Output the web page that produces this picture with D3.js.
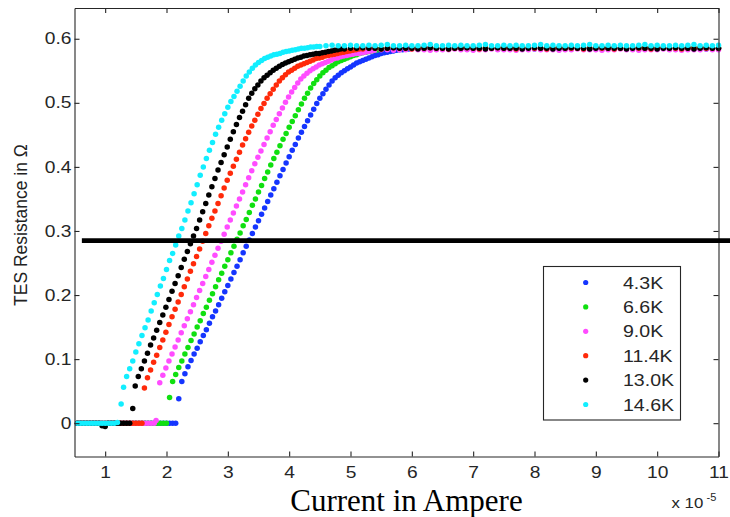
<!DOCTYPE html>
<html>
<head>
<meta charset="utf-8">
<script src="https://cdn.jsdelivr.net/npm/d3@7"></script>
<style>
  body { margin: 0; background: #fff; }
  svg { display: block; }
</style>
</head>
<body>
<svg id="chart" width="730" height="517"></svg>
<script>
// Bath temperatures shown in the legend, with their marker colours
const seriesLabels = ["4.3K", "6.6K", "9.0K", "11.4K", "13.0K", "14.6K"];
const seriesColors = ["#1535ff", "#10e010", "#ff4cff", "#ff2a0a", "#000000", "#12eeff"];

// Axis ticks (current in units of 1e-5 A, resistance in ohm)
const xTicks = [1, 2, 3, 4, 5, 6, 7, 8, 9, 10, 11];
const yTicks = [0, 0.1, 0.2, 0.3, 0.4, 0.5, 0.6];

// Reference resistance level drawn as a heavy horizontal rule
const referenceResistance = 0.285;

// Measured R(I) sweeps: [current (1e-5 A), resistance (ohm)]
const temp43K = [
  [0.55,0],[0.60,0],[0.65,0],[0.70,0],[0.75,0],[0.80,0],[0.85,0],[0.90,0],[0.95,0],[1.00,0],
  [1.05,0],[1.10,0],[1.15,0],[1.20,0],[1.25,0],[1.30,0],[1.35,0],[1.40,0],[1.45,0],[1.50,0],
  [1.55,0],[1.60,0],[1.65,0],[1.70,0],[1.75,0],[1.80,0],[1.85,0],[1.90,0],[1.95,0],[2.00,0],
  [2.05,0],[2.10,0],[2.15,0],
  [2.20,0.038],[2.25,0.065],[2.30,0.077],[2.35,0.088],[2.40,0.098],[2.45,0.108],[2.50,0.117],
  [2.55,0.127],[2.60,0.137],[2.65,0.146],[2.70,0.156],[2.75,0.166],[2.80,0.175],[2.85,0.185],
  [2.90,0.195],[2.95,0.205],[3.00,0.215],[3.05,0.225],[3.10,0.235],[3.15,0.245],[3.20,0.255],
  [3.25,0.266],[3.30,0.276],[3.35,0.286],[3.40,0.296],[3.45,0.306],[3.50,0.316],[3.55,0.326],
  [3.60,0.336],[3.65,0.346],[3.70,0.356],[3.75,0.366],[3.80,0.376],[3.85,0.386],[3.90,0.396],
  [3.95,0.406],[4.00,0.416],[4.05,0.426],[4.10,0.435],[4.15,0.445],[4.20,0.454],[4.25,0.463],
  [4.30,0.472],[4.35,0.481],[4.40,0.490],[4.45,0.499],[4.50,0.507],[4.55,0.514],[4.60,0.521],
  [4.65,0.528],[4.70,0.534],[4.75,0.539],[4.80,0.543],[4.85,0.547],[4.90,0.550],[4.95,0.553],
  [5.00,0.556],[5.05,0.559],[5.10,0.562],[5.15,0.564],[5.20,0.566],[5.25,0.568],[5.30,0.570],
  [5.35,0.572],[5.40,0.574],[5.45,0.575],[5.50,0.577],[5.55,0.578],[5.60,0.579],[5.65,0.580],
  [5.70,0.581],[5.75,0.582],[5.80,0.583],[5.85,0.583],[5.90,0.584],[5.95,0.584],
  [6.0,0.585],[6.1,0.585],[6.2,0.586],[6.3,0.585],[6.4,0.584],[6.5,0.585],[6.6,0.586],[6.7,0.585],
  [6.8,0.585],[6.9,0.584],[7.0,0.585],[7.1,0.586],[7.2,0.585],[7.3,0.585],[7.4,0.584],[7.5,0.585],
  [7.6,0.586],[7.7,0.585],[7.8,0.585],[7.9,0.585],[8.0,0.584],[8.1,0.585],[8.2,0.586],[8.3,0.585],
  [8.4,0.585],[8.5,0.584],[8.6,0.585],[8.7,0.585],[8.8,0.586],[8.9,0.585],[9.0,0.585],[9.1,0.584],
  [9.2,0.585],[9.3,0.586],[9.4,0.585],[9.5,0.585],[9.6,0.585],[9.7,0.584],[9.8,0.585],[9.9,0.586],
  [10.0,0.585],[10.1,0.585],[10.2,0.584],[10.3,0.585],[10.4,0.585],[10.5,0.586],[10.6,0.585],
  [10.7,0.585],[10.8,0.584],[10.9,0.585],[11.0,0.585]
];

const temp66K = [
  [0.55,0],[0.60,0],[0.65,0],[0.70,0],[0.75,0],[0.80,0],[0.85,0],[0.90,0],[0.95,0],[1.00,0],
  [1.05,0],[1.10,0],[1.15,0],[1.20,0],[1.25,0],[1.30,0],[1.35,0],[1.40,0],[1.45,0],[1.50,0],
  [1.55,0],[1.60,0],[1.65,0],[1.70,0],[1.75,0],[1.80,0],[1.85,0],[1.90,0],[1.95,0],[2.00,0],
  [2.05,0.040],[2.10,0.065],[2.15,0.076],[2.20,0.087],[2.25,0.097],[2.30,0.108],[2.35,0.118],
  [2.40,0.129],[2.45,0.139],[2.50,0.150],[2.55,0.160],[2.60,0.171],[2.65,0.181],[2.70,0.192],
  [2.75,0.202],[2.80,0.213],[2.85,0.224],[2.90,0.234],[2.95,0.245],[3.00,0.255],[3.05,0.266],
  [3.10,0.276],[3.15,0.287],[3.20,0.297],[3.25,0.308],[3.30,0.318],[3.35,0.329],[3.40,0.340],
  [3.45,0.350],[3.50,0.361],[3.55,0.371],[3.60,0.382],[3.65,0.392],[3.70,0.403],[3.75,0.413],
  [3.80,0.423],[3.85,0.433],[3.90,0.443],[3.95,0.452],[4.00,0.462],[4.05,0.471],[4.10,0.480],
  [4.15,0.489],[4.20,0.498],[4.25,0.507],[4.30,0.515],[4.35,0.523],[4.40,0.530],[4.45,0.536],
  [4.50,0.542],[4.55,0.547],[4.60,0.551],[4.65,0.555],[4.70,0.558],[4.75,0.561],[4.80,0.564],
  [4.85,0.566],[4.90,0.568],[4.95,0.570],[5.00,0.572],[5.05,0.574],[5.10,0.575],[5.15,0.577],
  [5.20,0.578],[5.25,0.579],[5.30,0.580],[5.35,0.581],[5.40,0.582],[5.45,0.583],[5.50,0.584],
  [5.6,0.584],[5.7,0.585],[5.8,0.585],[5.9,0.584],[6.0,0.585],[6.1,0.586],[6.2,0.585],[6.3,0.584],
  [6.4,0.585],[6.5,0.586],[6.6,0.585],[6.7,0.585],[6.8,0.586],[6.9,0.585],[7.0,0.585],[7.1,0.585],
  [7.2,0.586],[7.3,0.585],[7.4,0.585],[7.5,0.586],[7.6,0.585],[7.7,0.585],[7.8,0.586],[7.9,0.586],
  [8.0,0.585],[8.1,0.585],[8.2,0.586],[8.3,0.585],[8.4,0.586],[8.5,0.585],[8.6,0.585],[8.7,0.586],
  [8.8,0.585],[8.9,0.585],[9.0,0.586],[9.1,0.585],[9.2,0.585],[9.3,0.586],[9.4,0.585],[9.5,0.586],
  [9.6,0.585],[9.7,0.585],[9.8,0.586],[9.9,0.585],[10.0,0.585],[10.1,0.586],[10.2,0.585],
  [10.3,0.586],[10.4,0.585],[10.5,0.585],[10.6,0.586],[10.7,0.585],[10.8,0.586],[10.9,0.585],
  [11.0,0.586]
];

const temp90K = [
  [0.55,0],[0.60,0],[0.65,0],[0.70,0],[0.75,0],[0.80,0],[0.85,0],[0.90,0],[0.95,0],[1.00,0],
  [1.05,0],[1.10,0],[1.15,0],[1.20,0],[1.25,0],[1.30,0],[1.35,0],[1.40,0],[1.45,0],[1.50,0],
  [1.55,0],[1.60,0],[1.65,0],[1.70,0],[1.75,0],[1.80,0],[1.83,0.004],
  [1.89,0.063],[1.94,0.075],[1.99,0.086],[2.04,0.097],[2.09,0.108],[2.14,0.119],[2.19,0.130],
  [2.24,0.141],[2.29,0.152],[2.34,0.163],[2.39,0.174],[2.44,0.185],[2.49,0.196],[2.54,0.207],
  [2.59,0.218],[2.64,0.229],[2.69,0.240],[2.74,0.251],[2.79,0.262],[2.84,0.273],[2.89,0.284],
  [2.94,0.295],[2.99,0.306],[3.04,0.317],[3.09,0.328],[3.14,0.339],[3.19,0.350],[3.24,0.361],
  [3.29,0.372],[3.34,0.383],[3.39,0.394],[3.44,0.405],[3.49,0.415],[3.54,0.425],[3.59,0.435],
  [3.64,0.445],[3.69,0.455],[3.74,0.465],[3.79,0.474],[3.84,0.483],[3.89,0.492],[3.94,0.501],
  [3.99,0.509],[4.04,0.517],[4.09,0.524],[4.14,0.531],[4.19,0.537],[4.24,0.542],[4.29,0.546],
  [4.34,0.550],[4.39,0.553],[4.44,0.556],[4.49,0.559],[4.54,0.561],[4.59,0.563],[4.64,0.565],
  [4.69,0.567],[4.74,0.569],[4.79,0.570],[4.84,0.572],[4.89,0.573],[4.94,0.574],[4.99,0.575],
  [5.04,0.576],[5.09,0.577],[5.14,0.577],[5.19,0.578],[5.24,0.579],[5.29,0.580],[5.34,0.581],
  [5.39,0.582],
  [5.5,0.583],[5.6,0.583],[5.7,0.582],[5.8,0.583],[5.9,0.583],[6.0,0.584],[6.1,0.583],[6.2,0.583],
  [6.3,0.582],[6.4,0.583],[6.5,0.583],[6.6,0.583],[6.7,0.584],[6.8,0.583],[6.9,0.583],[7.0,0.582],
  [7.1,0.583],[7.2,0.583],[7.3,0.584],[7.4,0.583],[7.5,0.583],[7.6,0.583],[7.7,0.582],[7.8,0.583],
  [7.9,0.583],[8.0,0.584],[8.1,0.583],[8.2,0.583],[8.3,0.583],[8.4,0.582],[8.5,0.583],[8.6,0.583],
  [8.7,0.584],[8.8,0.583],[8.9,0.583],[9.0,0.583],[9.1,0.582],[9.2,0.583],[9.3,0.583],[9.4,0.584],
  [9.5,0.583],[9.6,0.583],[9.7,0.582],[9.8,0.583],[9.9,0.583],[10.0,0.583],[10.1,0.584],
  [10.2,0.583],[10.3,0.583],[10.4,0.582],[10.5,0.583],[10.6,0.583],[10.7,0.583],[10.8,0.584],
  [10.9,0.583],[11.0,0.583]
];

const temp114K = [
  [0.55,0],[0.60,0],[0.65,0],[0.70,0],[0.75,0],[0.80,0],[0.85,0],[0.90,0],[0.95,0],[1.00,0],
  [1.05,0],[1.10,0],[1.15,0],[1.20,0],[1.25,0],[1.30,0],[1.35,0],[1.40,0],[1.45,0],[1.50,0],
  [1.55,0],[1.60,0],
  [1.64,0.055],[1.69,0.071],[1.74,0.083],[1.79,0.095],[1.84,0.106],[1.89,0.118],[1.94,0.130],
  [1.99,0.142],[2.04,0.154],[2.09,0.166],[2.14,0.178],[2.19,0.189],[2.24,0.201],[2.29,0.213],
  [2.34,0.225],[2.39,0.237],[2.44,0.249],[2.49,0.260],[2.54,0.272],[2.59,0.284],[2.64,0.296],
  [2.69,0.308],[2.74,0.320],[2.79,0.331],[2.84,0.343],[2.89,0.355],[2.94,0.367],[2.99,0.379],
  [3.04,0.390],[3.09,0.401],[3.14,0.412],[3.19,0.423],[3.24,0.434],[3.29,0.444],[3.34,0.454],
  [3.39,0.464],[3.44,0.473],[3.49,0.482],[3.54,0.491],[3.59,0.499],[3.64,0.507],[3.69,0.514],
  [3.74,0.521],[3.79,0.528],[3.84,0.534],[3.89,0.539],[3.94,0.544],[3.99,0.548],[4.04,0.551],
  [4.09,0.554],[4.14,0.557],[4.19,0.559],[4.24,0.561],[4.29,0.563],[4.34,0.565],[4.39,0.567],
  [4.44,0.569],[4.49,0.570],[4.54,0.571],[4.59,0.573],[4.64,0.574],[4.69,0.575],[4.74,0.576],
  [4.79,0.577],[4.84,0.578],[4.89,0.579],[4.94,0.580],[4.99,0.581],[5.04,0.582],[5.09,0.583],
  [5.14,0.584],
  [5.2,0.584],[5.3,0.585],[5.4,0.585],[5.5,0.584],[5.6,0.585],[5.7,0.586],[5.8,0.585],[5.9,0.585],
  [6.0,0.584],[6.1,0.585],[6.2,0.585],[6.3,0.586],[6.4,0.585],[6.5,0.585],[6.6,0.584],[6.7,0.585],
  [6.8,0.585],[6.9,0.586],[7.0,0.585],[7.1,0.584],[7.2,0.585],[7.3,0.585],[7.4,0.586],[7.5,0.585],
  [7.6,0.585],[7.7,0.584],[7.8,0.585],[7.9,0.586],[8.0,0.585],[8.1,0.585],[8.2,0.584],[8.3,0.585],
  [8.4,0.586],[8.5,0.585],[8.6,0.585],[8.7,0.585],[8.8,0.584],[8.9,0.585],[9.0,0.586],[9.1,0.585],
  [9.2,0.585],[9.3,0.584],[9.4,0.585],[9.5,0.585],[9.6,0.586],[9.7,0.585],[9.8,0.585],[9.9,0.584],
  [10.0,0.585],[10.1,0.586],[10.2,0.585],[10.3,0.585],[10.4,0.584],[10.5,0.585],[10.6,0.585],
  [10.7,0.586],[10.8,0.585],[10.9,0.585],[11.0,0.585]
];

const temp130K = [
  [0.55,0],[0.60,0],[0.65,0],[0.70,0],[0.75,0],[0.80,0],[0.85,0],[0.90,0],[0.95,-0.004],[1.00,-0.005],
  [1.05,0],[1.10,0],[1.15,0],[1.20,0],[1.25,0],[1.30,0],[1.35,0],[1.40,0],
  [1.45,0.023],[1.49,0.058],[1.54,0.073],[1.59,0.085],[1.64,0.097],[1.69,0.109],[1.74,0.122],
  [1.79,0.133],[1.84,0.145],[1.89,0.157],[1.94,0.169],[1.99,0.181],[2.04,0.193],[2.09,0.206],
  [2.14,0.218],[2.19,0.230],[2.24,0.243],[2.29,0.256],[2.34,0.268],[2.39,0.280],[2.44,0.292],
  [2.49,0.304],[2.54,0.317],[2.59,0.330],[2.64,0.343],[2.69,0.356],[2.74,0.369],[2.79,0.382],
  [2.84,0.395],[2.89,0.407],[2.94,0.419],[2.99,0.431],[3.04,0.443],[3.09,0.455],[3.14,0.466],
  [3.19,0.477],[3.24,0.487],[3.29,0.497],[3.34,0.507],[3.39,0.515],[3.44,0.522],[3.49,0.528],
  [3.54,0.534],[3.59,0.539],[3.64,0.543],[3.69,0.547],[3.74,0.551],[3.79,0.554],[3.84,0.557],
  [3.89,0.560],[3.94,0.562],[3.99,0.564],[4.04,0.566],[4.09,0.568],[4.14,0.570],[4.19,0.571],
  [4.24,0.573],[4.29,0.574],[4.34,0.575],[4.39,0.576],[4.44,0.577],[4.49,0.577],[4.54,0.578],
  [4.59,0.579],[4.64,0.580],[4.69,0.581],[4.74,0.582],[4.79,0.583],[4.84,0.584],
  [4.9,0.584],[5.0,0.585],[5.1,0.585],[5.2,0.586],[5.3,0.585],[5.4,0.585],[5.5,0.584],[5.6,0.585],
  [5.7,0.586],[5.8,0.585],[5.9,0.585],[6.0,0.585],[6.1,0.584],[6.2,0.585],[6.3,0.586],[6.4,0.585],
  [6.5,0.585],[6.6,0.584],[6.7,0.585],[6.8,0.585],[6.9,0.586],[7.0,0.585],[7.1,0.585],[7.2,0.584],
  [7.3,0.585],[7.4,0.586],[7.5,0.585],[7.6,0.585],[7.7,0.585],[7.8,0.584],[7.9,0.585],[8.0,0.586],
  [8.1,0.585],[8.2,0.585],[8.3,0.584],[8.4,0.585],[8.5,0.585],[8.6,0.586],[8.7,0.585],[8.8,0.585],
  [8.9,0.584],[9.0,0.585],[9.1,0.586],[9.2,0.585],[9.3,0.585],[9.4,0.585],[9.5,0.584],[9.6,0.585],
  [9.7,0.586],[9.8,0.585],[9.9,0.585],[10.0,0.584],[10.1,0.585],[10.2,0.585],[10.3,0.586],
  [10.4,0.585],[10.5,0.585],[10.6,0.584],[10.7,0.585],[10.8,0.586],[10.9,0.585],[11.0,0.585]
];

const temp146K = [
  [0.55,0],[0.60,0],[0.65,0],[0.70,0],[0.75,0],[0.80,0],[0.85,0],[0.90,0],[0.95,0],[1.00,0],
  [1.05,0],[1.10,0],[1.15,0],[1.20,0.001],
  [1.26,0.030],[1.30,0.056],[1.35,0.073],[1.40,0.085],[1.45,0.097],[1.50,0.111],[1.55,0.124],
  [1.60,0.137],[1.65,0.149],[1.70,0.161],[1.75,0.175],[1.80,0.188],[1.85,0.201],[1.90,0.214],
  [1.95,0.226],[2.00,0.240],[2.05,0.254],[2.10,0.265],[2.15,0.278],[2.20,0.292],[2.25,0.304],
  [2.30,0.317],[2.35,0.331],[2.40,0.344],[2.45,0.358],[2.50,0.372],[2.55,0.387],[2.60,0.400],
  [2.65,0.413],[2.70,0.426],[2.75,0.438],[2.80,0.451],[2.85,0.462],[2.90,0.473],[2.95,0.483],
  [3.00,0.493],[3.05,0.502],[3.10,0.510],[3.15,0.518],[3.20,0.526],[3.25,0.534],[3.30,0.542],
  [3.35,0.548],[3.40,0.554],[3.45,0.559],[3.50,0.563],[3.55,0.566],[3.60,0.569],[3.65,0.571],
  [3.70,0.573],[3.75,0.575],[3.80,0.576],[3.85,0.577],[3.90,0.579],[3.95,0.580],[4.00,0.581],
  [4.05,0.582],[4.10,0.583],[4.15,0.584],[4.20,0.585],[4.25,0.585],[4.30,0.586],[4.35,0.587],
  [4.40,0.587],[4.45,0.588],[4.50,0.588],
  [4.6,0.589],[4.7,0.590],[4.8,0.589],[4.9,0.589],[5.0,0.590],[5.1,0.589],[5.2,0.589],[5.3,0.590],
  [5.4,0.589],[5.5,0.590],[5.6,0.591],[5.7,0.589],[5.8,0.589],[5.9,0.590],[6.0,0.589],[6.1,0.589],
  [6.2,0.590],[6.3,0.591],[6.4,0.589],[6.5,0.589],[6.6,0.590],[6.7,0.589],[6.8,0.590],[6.9,0.589],
  [7.0,0.589],[7.1,0.590],[7.2,0.591],[7.3,0.589],[7.4,0.589],[7.5,0.590],[7.6,0.589],[7.7,0.590],
  [7.8,0.589],[7.9,0.589],[8.0,0.590],[8.1,0.591],[8.2,0.589],[8.3,0.590],[8.4,0.589],[8.5,0.589],
  [8.6,0.590],[8.7,0.589],[8.8,0.590],[8.9,0.591],[9.0,0.589],[9.1,0.589],[9.2,0.590],[9.3,0.589],
  [9.4,0.590],[9.5,0.589],[9.6,0.589],[9.7,0.590],[9.8,0.591],[9.9,0.589],[10.0,0.590],[10.1,0.589],
  [10.2,0.589],[10.3,0.590],[10.4,0.589],[10.5,0.590],[10.6,0.591],[10.7,0.589],[10.8,0.590],
  [10.9,0.589],[11.0,0.590]
];

const sweeps = [temp43K, temp66K, temp90K, temp114K, temp130K, temp146K];
const series = seriesLabels.map((label, i) => ({ label, color: seriesColors[i], data: sweeps[i] }));

// ---- layout ----
const svg = d3.select("#chart");
const W = 730;
const plot = { left: 74.5, right: 718.5, top: 8, bottom: 456.5 };
const axisColor = "#262626";
const sans = "'Liberation Sans', Arial, Helvetica, sans-serif";

const x = d3.scaleLinear().domain([0.5, 11]).range([plot.left, plot.right]);
const y = d3.scaleLinear().domain([-0.052, 0.648]).range([plot.bottom, plot.top]);

svg.append("rect").attr("width", W).attr("height", 517).attr("fill", "#fff");

// ---- data points ----
const dotLayer = svg.append("g");
series.forEach(s => {
  dotLayer.append("g")
    .attr("fill", s.color)
    .selectAll("circle")
    .data(s.data)
    .join("circle")
    .attr("cx", d => x(d[0]))
    .attr("cy", d => y(d[1]))
    .attr("r", 2.75);
});

// ---- axes (boxed, ticks pointing inward) ----
const fmtY = d => d === 0 ? "0" : d.toFixed(1);

const gBottom = svg.append("g")
  .attr("transform", `translate(0,${plot.bottom})`)
  .call(d3.axisBottom(x).tickValues(xTicks).tickSizeInner(-5).tickSizeOuter(0).tickPadding(10).tickFormat(d3.format("d")));

const gLeft = svg.append("g")
  .attr("transform", `translate(${plot.left},0)`)
  .call(d3.axisLeft(y).tickValues(yTicks).tickSizeInner(-5).tickSizeOuter(0).tickPadding(3).tickFormat(fmtY));

const gTop = svg.append("g")
  .attr("transform", `translate(0,${plot.top})`)
  .call(d3.axisTop(x).tickValues(xTicks).tickSizeInner(-5).tickSizeOuter(0).tickFormat(() => ""));

const gRight = svg.append("g")
  .attr("transform", `translate(${plot.right},0)`)
  .call(d3.axisRight(y).tickValues(yTicks).tickSizeInner(-5).tickSizeOuter(0).tickFormat(() => ""));

[gBottom, gLeft, gTop, gRight].forEach(g => {
  g.attr("font-family", sans).attr("font-size", 16);
  g.select(".domain").attr("stroke", axisColor).attr("stroke-width", 1.1);
  g.selectAll(".tick line").attr("stroke", axisColor).attr("stroke-width", 1.1);
  g.selectAll(".tick text").attr("fill", axisColor);
});

// tick labels are drawn slightly wide
gBottom.selectAll(".tick text").attr("transform", "scale(1.2,1)");
gLeft.selectAll(".tick text").attr("x", -3 / 1.2).attr("transform", "scale(1.2,1)");

// ---- reference level ----
svg.append("line")
  .attr("x1", x(0.62)).attr("x2", W)
  .attr("y1", y(referenceResistance)).attr("y2", y(referenceResistance))
  .attr("stroke", "#000").attr("stroke-width", 4.8);

// ---- legend ----
const legend = svg.append("g");
legend.append("rect")
  .attr("x", 543.5).attr("y", 266.5).attr("width", 137).attr("height", 153.5)
  .attr("fill", "#fff").attr("stroke", axisColor).attr("stroke-width", 1.1);

const entries = legend.selectAll("g.entry")
  .data(series)
  .join("g")
  .attr("class", "entry")
  .attr("transform", (d, i) => `translate(0,${282.5 + i * 24.4})`);

entries.append("circle")
  .attr("cx", 585.7).attr("cy", 0).attr("r", 2.6)
  .attr("fill", d => d.color);

entries.append("g")
  .attr("transform", "translate(623,0)")
  .append("text")
  .attr("transform", "scale(1.15,1)")
  .attr("dy", "0.36em")
  .attr("font-family", sans).attr("font-size", 17)
  .attr("fill", axisColor)
  .text(d => d.label);

// ---- axis titles ----
svg.append("text")
  .attr("transform", "translate(27,225) rotate(-90)")
  .attr("text-anchor", "middle")
  .attr("font-family", sans).attr("font-size", 17.5)
  .attr("fill", "#222")
  .text("TES Resistance in Ω");

svg.append("text")
  .attr("x", 406.5).attr("y", 510.5)
  .attr("text-anchor", "middle")
  .attr("font-family", "'Liberation Serif', 'Times New Roman', serif")
  .attr("font-size", 31)
  .attr("fill", "#000")
  .text("Current in Ampere");

// exponent note for the current axis
svg.append("g").attr("transform", "translate(671.5,508)")
  .append("text")
  .attr("transform", "scale(1.2,1)")
  .attr("font-family", sans).attr("font-size", 14)
  .attr("fill", axisColor)
  .text("x 10");

svg.append("text")
  .attr("x", 706.5).attr("y", 500.5)
  .attr("font-family", sans).attr("font-size", 11)
  .attr("fill", axisColor)
  .text("-5");
</script>
</body>
</html>
